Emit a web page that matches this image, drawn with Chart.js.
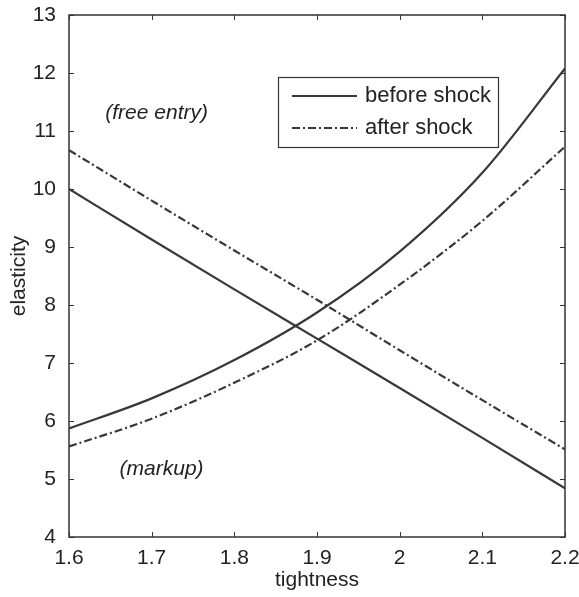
<!DOCTYPE html>
<html>
<head>
<meta charset="utf-8">
<script src="https://cdn.jsdelivr.net/npm/chart.js@4"></script>
<style>
  html, body { margin: 0; background: #fff; }
  #wrap { width: 579px; height: 597px; }
</style>
</head>
<body>
<div id="wrap"><canvas id="chart"></canvas></div>
<script>
// tightness values on the x axis
const tightness = [1.6, 1.7, 1.8, 1.9, 2.0, 2.1, 2.2];
// elasticity curves
const beforeFreeEntry = [10.0, 9.13, 8.27, 7.42, 6.57, 5.71, 4.84];
const beforeMarkup    = [5.87, 6.39, 7.05, 7.87, 8.92, 10.28, 12.08];
const afterFreeEntry  = [10.67, 9.80, 8.94, 8.09, 7.22, 6.36, 5.51];
const afterMarkup     = [5.56, 6.04, 6.66, 7.39, 8.35, 9.45, 10.73];
const seriesLabels = ['before shock', 'after shock'];
const notes = [
  { text: '(free entry)', x: 1.706, y: 11.31 },
  { text: '(markup)', x: 1.712, y: 5.17 }
];

const INK = '#333333';
const LINE = '#383838';
const FONT = 'Liberation Sans, Arial, sans-serif';
const DASHDOT = [8, 3, 2, 3];

function pts(ys) {
  return tightness.map((x, i) => ({ x: x, y: ys[i] }));
}

function lineSet(label, ys, dash) {
  return {
    label: label,
    data: pts(ys),
    borderColor: LINE,
    borderWidth: 2.2,
    borderDash: dash,
    pointRadius: 0,
    fill: false,
    cubicInterpolationMode: 'monotone'
  };
}

// frame, inward ticks, notes and legend box
const decorations = {
  id: 'decorations',
  afterDraw(chart) {
    const ctx = chart.ctx;
    const a = chart.chartArea;
    const xs = chart.scales.x, ys = chart.scales.y;
    ctx.save();
    ctx.strokeStyle = INK;
    ctx.lineWidth = 1.5;
    ctx.setLineDash([]);
    ctx.strokeRect(a.left, a.top, a.right - a.left, a.bottom - a.top);
    ctx.lineWidth = 1;
    const tl = 5;
    ctx.beginPath();
    xs.ticks.forEach(t => {
      const px = Math.round(xs.getPixelForValue(t.value)) + 0.5;
      ctx.moveTo(px, a.bottom); ctx.lineTo(px, a.bottom - tl);
      ctx.moveTo(px, a.top); ctx.lineTo(px, a.top + tl);
    });
    ys.ticks.forEach(t => {
      const py = Math.round(ys.getPixelForValue(t.value)) + 0.5;
      ctx.moveTo(a.left, py); ctx.lineTo(a.left + tl, py);
      ctx.moveTo(a.right, py); ctx.lineTo(a.right - tl, py);
    });
    ctx.stroke();

    // notes
    ctx.fillStyle = '#222';
    ctx.font = 'italic 21px ' + FONT;
    ctx.textAlign = 'center';
    ctx.textBaseline = 'middle';
    notes.forEach(n => {
      ctx.fillText(n.text, xs.getPixelForValue(n.x), ys.getPixelForValue(n.y));
    });

    // legend box
    const bx = 278, by = 77, bw = 220, bh = 70;
    ctx.fillStyle = '#fff';
    ctx.fillRect(bx, by, bw, bh);
    ctx.strokeStyle = INK;
    ctx.lineWidth = 1.2;
    ctx.strokeRect(bx + 0.5, by + 0.5, bw, bh);
    ctx.font = '22px ' + FONT;
    ctx.textAlign = 'left';
    chart.data.datasets.slice(0, 2).forEach((ds, i) => {
      const cy = by + 19 + i * 32;
      ctx.strokeStyle = LINE;
      ctx.lineWidth = 2;
      ctx.setLineDash(ds.borderDash || []);
      ctx.beginPath();
      ctx.moveTo(bx + 14, cy); ctx.lineTo(bx + 79, cy);
      ctx.stroke();
      ctx.setLineDash([]);
      ctx.fillStyle = '#222';
      ctx.fillText(ds.label, bx + 87, cy);
    });
    ctx.restore();
  }
};

new Chart(document.getElementById('chart').getContext('2d'), {
  type: 'line',
  data: {
    datasets: [
      lineSet(seriesLabels[0], beforeFreeEntry, []),
      lineSet(seriesLabels[1], afterFreeEntry, DASHDOT),
      lineSet(seriesLabels[0], beforeMarkup, []),
      lineSet(seriesLabels[1], afterMarkup, DASHDOT)
    ]
  },
  options: {
    responsive: true,
    maintainAspectRatio: false,
    animation: false,
    layout: { padding: { left: 0, right: 14, top: 15, bottom: 0 } },
    plugins: {
      legend: { display: false },
      tooltip: { enabled: false }
    },
    scales: {
      x: {
        type: 'linear',
        min: 1.6,
        max: 2.2,
        ticks: {
          stepSize: 0.1,
          color: '#222',
          font: { family: FONT, size: 21 },
          padding: 1,
          maxRotation: 0,
          callback: v => String(Math.round(v * 10) / 10)
        },
        grid: { display: false },
        border: { display: false },
        title: {
          display: true,
          text: 'tightness',
          color: '#222',
          font: { family: FONT, size: 21 },
          padding: { top: 0, bottom: 4 }
        },
        afterFit(s) { s.height = 60; s.paddingLeft = 0; s.paddingRight = 0; }
      },
      y: {
        min: 4,
        max: 13,
        ticks: {
          stepSize: 1,
          color: '#222',
          font: { family: FONT, size: 21 },
          padding: 5
        },
        grid: { display: false },
        border: { display: false },
        title: {
          display: true,
          text: 'elasticity',
          color: '#222',
          font: { family: FONT, size: 21 },
          padding: { top: 7, bottom: 0 }
        },
        afterFit(s) { s.width = 69; s.paddingTop = 0; s.paddingBottom = 0; }
      }
    }
  },
  plugins: [decorations]
});
</script>
</body>
</html>
